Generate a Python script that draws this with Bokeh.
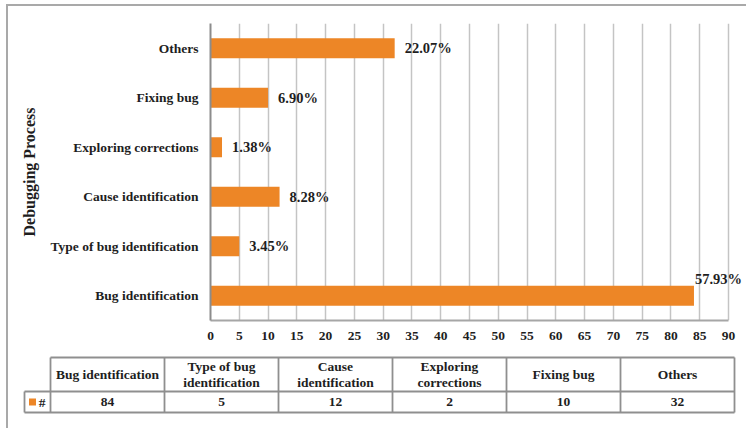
from bokeh.plotting import figure
from bokeh.layouts import column
from bokeh.models import ColumnDataSource, FactorRange, Range1d, FixedTicker
from bokeh.core.properties import value
from bokeh.embed import file_html
from bokeh.resources import INLINE

# Debugging process categories (bottom to top) and their counts
categories = [
    "Bug identification",
    "Type of bug identification",
    "Cause identification",
    "Exploring corrections",
    "Fixing bug",
    "Others",
]
counts = [84, 5, 12, 2, 10, 32]
header_labels = [
    "Bug identification",
    "Type of bug\nidentification",
    "Cause\nidentification",
    "Exploring\ncorrections",
    "Fixing bug",
    "Others",
]
x_ticks = list(range(0, 91, 5))
series_name = "#"

FONT = "Liberation Serif"
TEXT = "#1e1e1e"
ORANGE = "#ED8626"
X_MAX = 90

total = sum(counts)
pct_labels = [f"{100 * c / total:.2f}%" for c in counts]

# ---------------- bar chart ----------------
PLOT_W, PLOT_H = 738, 344
LEFT, TOP, BOTTOM = 202, 17, 30
AXIS_PX = 518                      # pixel length of the 0..90 scale
frame_px = PLOT_W - LEFT           # frame runs to the right edge so labels are not clipped
x_end = X_MAX * frame_px / AXIS_PX

chart = figure(
    width=PLOT_W, height=PLOT_H,
    y_range=FactorRange(factors=categories),
    x_range=Range1d(0, x_end),
    output_backend="svg", toolbar_location=None,
    min_border_left=LEFT, min_border_right=0,
    min_border_top=TOP, min_border_bottom=BOTTOM,
)
chart.frame_align = False
chart.outline_line_color = None
chart.background_fill_color = "white"
chart.border_fill_color = "white"

chart.hbar(y=categories, left=0, right=counts, height=0.4,
           fill_color=ORANGE, line_color=None)

# labels that would run past the axis end sit above their bar instead
near_end = [c > X_MAX - 10 for c in counts]
lab_src = ColumnDataSource(dict(
    x=counts, y=categories, text=pct_labels,
    xo=[1 if n else 10 for n in near_end],
    yo=[-17 if n else 0 for n in near_end],
))
chart.text(x="x", y="y", text="text", source=lab_src,
           x_offset="xo", y_offset="yo",
           text_font=value(FONT), text_font_style="bold",
           text_font_size="14.5px", text_color=TEXT,
           text_align="left", text_baseline="middle")

chart.ygrid.grid_line_color = None
chart.xgrid.grid_line_color = "#c4c4c4"
chart.xgrid.grid_line_width = 1.5
chart.xgrid.bounds = (0, X_MAX)
chart.xaxis.ticker = FixedTicker(ticks=x_ticks)
chart.xaxis.bounds = (0, X_MAX)

for ax in (chart.xaxis[0], chart.yaxis[0]):
    ax.major_tick_line_color = None
    ax.minor_tick_line_color = None
    ax.major_tick_out = 0
    ax.major_tick_in = 0
    ax.minor_tick_out = 0
    ax.major_label_text_font = FONT
    ax.major_label_text_font_style = "bold"
    ax.major_label_text_font_size = "13.5px"
    ax.major_label_text_color = TEXT
    ax.axis_line_width = 2

chart.xaxis.axis_line_color = "#a6a6a6"
chart.yaxis.axis_line_color = "#8c8c8c"
chart.xaxis.major_label_standoff = 11
chart.yaxis.major_label_standoff = 12

chart.yaxis.axis_label = "Debugging Process"
chart.yaxis.axis_label_text_font = FONT
chart.yaxis.axis_label_text_font_style = "bold"
chart.yaxis.axis_label_text_font_size = "16px"
chart.yaxis.axis_label_text_color = TEXT
chart.yaxis.axis_label_standoff = 10

# ---------------- data table ----------------
tbl = figure(
    width=738, height=78,
    x_range=Range1d(8, 746), y_range=Range1d(428, 350),
    output_backend="svg", toolbar_location=None,
    min_border=0,
)
tbl.frame_align = False
tbl.outline_line_color = None
tbl.axis.visible = False
tbl.grid.visible = False
tbl.border_fill_color = "white"
tbl.background_fill_color = "white"

n = len(categories)
key_left, col_left, col_w = 24, 50, 114
row_top, row_mid, row_bot = 357, 391, 412
col_right = col_left + n * col_w
grid_col = "#8f8f8f"

# horizontal rules
tbl.segment(x0=[col_left, key_left, key_left], y0=[row_top, row_mid, row_bot],
            x1=[col_right] * 3, y1=[row_top, row_mid, row_bot],
            line_color=grid_col, line_width=1.8)
# vertical rules
xs = [col_left + k * col_w for k in range(n + 1)]
tbl.segment(x0=xs, y0=[row_top] * len(xs), x1=xs, y1=[row_bot] * len(xs),
            line_color=grid_col, line_width=1.8)
tbl.segment(x0=[key_left], y0=[row_mid], x1=[key_left], y1=[row_bot],
            line_color=grid_col, line_width=1.8)

centers = [col_left + (k + 0.5) * col_w for k in range(n)]
tbl.text(x=centers, y=[(row_top + row_mid) / 2] * n, text=header_labels,
         text_font=value(FONT), text_font_style="bold", text_font_size="13.5px",
         text_color=TEXT, text_align="center", text_baseline="middle",
         text_line_height=1.05)
tbl.text(x=centers, y=[(row_mid + row_bot) / 2] * n, text=[str(c) for c in counts],
         text_font=value(FONT), text_font_style="bold", text_font_size="13.5px",
         text_color=TEXT, text_align="center", text_baseline="middle")

# legend key cell
key_y = (row_mid + row_bot) / 2
tbl.scatter(x=[32], y=[key_y], marker="square", size=7,
            fill_color=ORANGE, line_color=None)
tbl.text(x=[41.5], y=[key_y], text=[series_name],
         text_font=value(FONT), text_font_style="bold", text_font_size="13.5px",
         text_color=TEXT, text_align="center", text_baseline="middle")

layout = column(
    chart, tbl,
    margin=(4, 0, 0, 6),
    styles={"border-left": "2px solid #a9a9a9", "border-top": "2px solid #a9a9a9",
            "background": "white"},
)

open("out.html", "w").write(file_html(layout, INLINE))
